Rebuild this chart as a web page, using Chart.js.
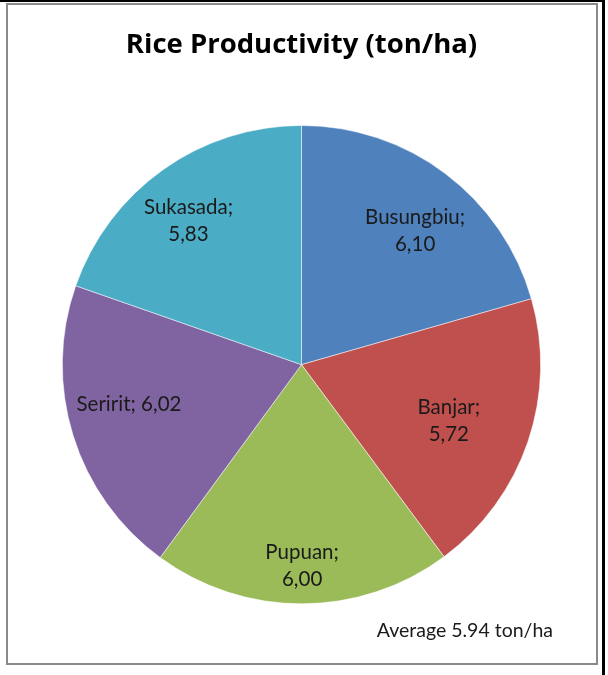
<!DOCTYPE html>
<html>
<head>
<meta charset="utf-8">
<title>Rice Productivity</title>
<script src="https://cdn.jsdelivr.net/npm/chart.js@4/dist/chart.umd.min.js"></script>
<style>
    body { margin: 0; background: #fff; }
    #frame {
        position: absolute; left: 0; top: 0;
        width: 602px; height: 673px;
        border-top: 2px solid #000;
        border-right: 3px solid #000;
    }
    #box {
        position: absolute; left: 6px; top: 3px;
        width: 588px; height: 658px;
        border: 2px solid #8a8a8a;
    }
    #chartRice { position: absolute; left: 0; top: 0; }
</style>
</head>
<body>
<div id="frame"></div>
<div id="box"></div>
<canvas id="chartRice" width="608" height="675"></canvas>

<script>
// Productividad por kecamatan (ton/ha)
const districts = ['Busungbiu', 'Banjar', 'Pupuan', 'Seririt', 'Sukasada'];
const productivity = [6.10, 5.72, 6.00, 6.02, 5.83];
const averageYield = 5.94;

const sliceColors = ['#4f81bd', '#c0504d', '#9bbb59', '#8064a2', '#4bacc6'];

// Posicion de cada etiqueta: fraccion del radio, giro en grados y si va en una sola linea
const labelPlacement = [
    { r: 0.733, shift: 3.4, inline: false },
    { r: 0.66, shift: 2.3, inline: false },
    { r: 0.843, shift: 0, inline: false },
    { r: 0.74, shift: 4.4, inline: true },
    { r: 0.763, shift: -2.9, inline: false }
];

const titleFont = '"Open Sans", "Noto Sans", sans-serif';
const textFont = 'Lato, "Open Sans", sans-serif';

function formatValue(v) {
    return v.toFixed(2).replace('.', ',');
}

// Dibuja "Nombre; valor" dentro de cada porcion
const sliceLabels = {
    id: 'sliceLabels',
    afterDatasetsDraw(chart) {
        const ctx = chart.ctx;
        const meta = chart.getDatasetMeta(0);
        const values = chart.data.datasets[0].data;
        ctx.save();
        ctx.font = '20.5px ' + textFont;
        ctx.fillStyle = '#1a1a1a';
        ctx.textAlign = 'center';
        ctx.textBaseline = 'middle';
        meta.data.forEach((arc, i) => {
            const p = arc.getProps(['x', 'y', 'startAngle', 'endAngle', 'outerRadius'], true);
            const place = labelPlacement[i];
            const mid = (p.startAngle + p.endAngle) / 2 + place.shift * Math.PI / 180;
            const x = p.x + Math.cos(mid) * p.outerRadius * place.r;
            const y = p.y + Math.sin(mid) * p.outerRadius * place.r;
            const name = chart.data.labels[i] + ';';
            const val = formatValue(values[i]);
            if (place.inline) {
                ctx.fillText(name + ' ' + val, x, y);
            } else {
                ctx.fillText(name, x, y - 13.5);
                ctx.fillText(val, x, y + 13.5);
            }
        });
        ctx.restore();
    }
};

new Chart(document.getElementById('chartRice'), {
    type: 'pie',
    data: {
        labels: districts,
        datasets: [{
            data: productivity,
            backgroundColor: sliceColors,
            borderColor: 'rgba(255, 255, 255, 0.5)',
            borderWidth: 1,
            hoverOffset: 0
        }]
    },
    options: {
        responsive: false,
        animation: false,
        layout: {
            padding: { left: 50, right: 55, top: 0, bottom: 0 }
        },
        plugins: {
            legend: { display: false },
            tooltip: { enabled: false },
            title: {
                display: true,
                text: 'Rice Productivity (ton/ha)',
                color: '#000',
                font: { family: titleFont, size: 27.5, weight: 'bold', lineHeight: 1.2 },
                padding: { top: 29, bottom: 63 }
            },
            subtitle: {
                display: true,
                position: 'bottom',
                align: 'end',
                text: 'Average ' + averageYield.toFixed(2) + ' ton/ha',
                color: '#1a1a1a',
                font: { family: textFont, size: 19.5, lineHeight: 1.2 },
                padding: { top: 14.3, bottom: 33 }
            }
        }
    },
    plugins: [sliceLabels]
});
</script>
</body>
</html>
